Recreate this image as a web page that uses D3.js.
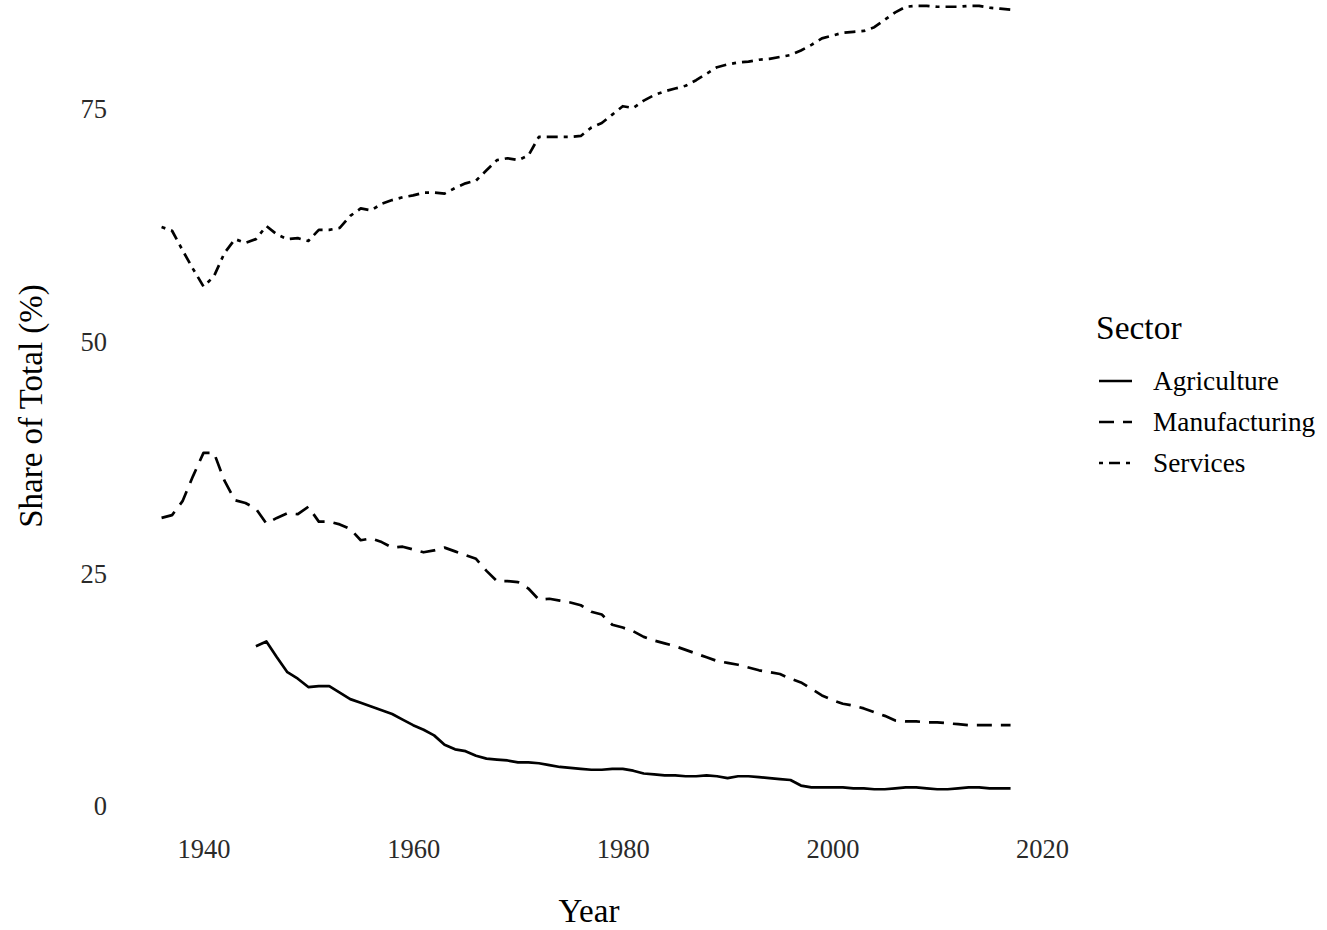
<!DOCTYPE html>
<html><head><meta charset="utf-8">
<script src="https://cdn.jsdelivr.net/npm/d3@7"></script>
<style>html,body{margin:0;padding:0;background:#fff;} svg{display:block;}</style>
</head><body><svg id="c" width="1327" height="930"></svg>
<script>
const years = [1936,1937,1938,1939,1940,1941,1942,1943,1944,1945,
1946,1947,1948,1949,1950,1951,1952,1953,1954,1955,
1956,1957,1958,1959,1960,1961,1962,1963,1964,1965,
1966,1967,1968,1969,1970,1971,1972,1973,1974,1975,
1976,1977,1978,1979,1980,1981,1982,1983,1984,1985,
1986,1987,1988,1989,1990,1991,1992,1993,1994,1995,
1996,1997,1998,1999,2000,2001,2002,2003,2004,2005,
2006,2007,2008,2009,2010,2011,2012,2013,2014,2015,
2016,2017];
const agriculture = [null,null,null,null,null,null,null,null,null,17.2,
17.7,16.0,14.4,13.7,12.8,12.9,12.9,12.2,11.5,11.1,
10.7,10.3,9.9,9.3,8.7,8.2,7.6,6.6,6.1,5.9,
5.4,5.1,5.0,4.9,4.7,4.7,4.6,4.4,4.2,4.1,
4.0,3.9,3.9,4.0,4.0,3.8,3.5,3.4,3.3,3.3,
3.2,3.2,3.3,3.2,3.0,3.2,3.2,3.1,3.0,2.9,
2.8,2.2,2.0,2.0,2.0,2.0,1.9,1.9,1.8,1.8,
1.9,2.0,2.0,1.9,1.8,1.8,1.9,2.0,2.0,1.9,
1.9,1.9];
const manufacturing = [31.0,31.3,32.8,35.5,38.0,38.0,35.0,32.9,32.6,32.0,
30.4,31.0,31.5,31.4,32.2,30.6,30.6,30.3,29.8,28.6,
28.8,28.4,27.8,27.9,27.6,27.3,27.5,27.8,27.4,27.0,
26.6,25.3,24.2,24.2,24.1,23.4,22.2,22.3,22.1,21.9,
21.6,20.9,20.6,19.5,19.2,18.8,18.2,17.8,17.5,17.2,
16.8,16.4,16.0,15.6,15.4,15.2,14.9,14.6,14.4,14.2,
13.7,13.3,12.6,11.9,11.4,11.0,10.8,10.5,10.1,9.7,
9.2,9.1,9.1,9.0,9.0,8.9,8.8,8.7,8.7,8.7,
8.7,8.7];
const services = [62.3,61.9,59.8,57.8,55.9,57.0,59.5,61.0,60.6,61.0,
62.4,61.5,61.0,61.1,60.8,62.0,62.0,62.2,63.5,64.3,
64.1,64.8,65.2,65.5,65.7,66.0,66.0,65.9,66.5,67.0,
67.3,68.4,69.5,69.7,69.5,70.0,72.0,72.0,72.0,72.0,
72.1,73.0,73.5,74.4,75.3,75.1,75.9,76.5,76.9,77.2,
77.5,78.1,78.8,79.5,79.8,80.0,80.1,80.3,80.4,80.6,
80.8,81.3,81.9,82.6,82.9,83.2,83.3,83.4,83.8,84.6,
85.4,86.0,86.1,86.1,86.0,86.0,86.0,86.1,86.1,85.9,
85.8,85.7];
const sectorNames = ["Agriculture","Manufacturing","Services"];
const xTicks = [1940,1960,1980,2000,2020];
const yTicks = [0,25,50,75];

const dashes = {Agriculture: null, Manufacturing: "15,9", Services: "4,6,11,6"};
const seriesMap = {Agriculture: agriculture, Manufacturing: manufacturing, Services: services};

const svg = d3.select("#c");
const FONT = "'Liberation Serif','Times New Roman',serif";
const x = d3.scaleLinear().domain([1940, 2020]).range([203.5, 1042]);
const y = d3.scaleLinear().domain([0, 75]).range([806, 109]);

const line = d3.line()
  .defined(d => d.v !== null)
  .x(d => x(d.year)).y(d => y(d.v));

sectorNames.forEach(name => {
  const data = years.map((yr, i) => ({year: yr, v: seriesMap[name][i]}));
  svg.append("path").datum(data)
    .attr("d", line)
    .attr("fill", "none")
    .attr("stroke", "#000")
    .attr("stroke-width", 2.7)
    .attr("stroke-linejoin", "round")
    .attr("stroke-dasharray", dashes[name]);
});

// x axis labels
const xAxis = d3.axisBottom(x).tickValues(xTicks).tickSize(0).tickFormat(d3.format("d"));
const gx = svg.append("g").attr("transform", "translate(0,836)").call(xAxis);
gx.select(".domain").remove();
gx.selectAll("text").attr("font-family", FONT).attr("font-size", 26.5).attr("fill", "#2a2a2a")
  .attr("dy", "0.71em").attr("y", 3);

const yAxis = d3.axisLeft(y).tickValues(yTicks).tickSize(0);
const gy = svg.append("g").attr("transform", "translate(107,0)").call(yAxis);
gy.select(".domain").remove();
gy.selectAll("text").attr("font-family", FONT).attr("font-size", 26.5).attr("fill", "#2a2a2a")
  .attr("x", 0).attr("dy", "0.33em");

// axis titles
svg.append("text").attr("x", 589).attr("y", 922).attr("text-anchor", "middle")
  .attr("font-family", FONT).attr("font-size", 33).attr("fill", "#000").text("Year");
svg.append("text").attr("transform", "translate(42,406) rotate(-90)").attr("text-anchor", "middle")
  .attr("font-family", FONT).attr("font-size", 33).attr("fill", "#000").text("Share of Total (%)");

// legend
svg.append("text").attr("x", 1096).attr("y", 339)
  .attr("font-family", FONT).attr("font-size", 33.5).attr("fill", "#000").text("Sector");
sectorNames.forEach((name, i) => {
  const cy = 381 + i * 41;
  svg.append("line").attr("x1", 1099).attr("x2", 1132).attr("y1", cy).attr("y2", cy)
    .attr("stroke", "#000").attr("stroke-width", 2.7).attr("stroke-dasharray", dashes[name]);
  svg.append("text").attr("x", 1153).attr("y", cy).attr("dy", "0.33em")
    .attr("font-family", FONT).attr("font-size", 27.3).attr("fill", "#000").text(name);
});
</script></body></html>
